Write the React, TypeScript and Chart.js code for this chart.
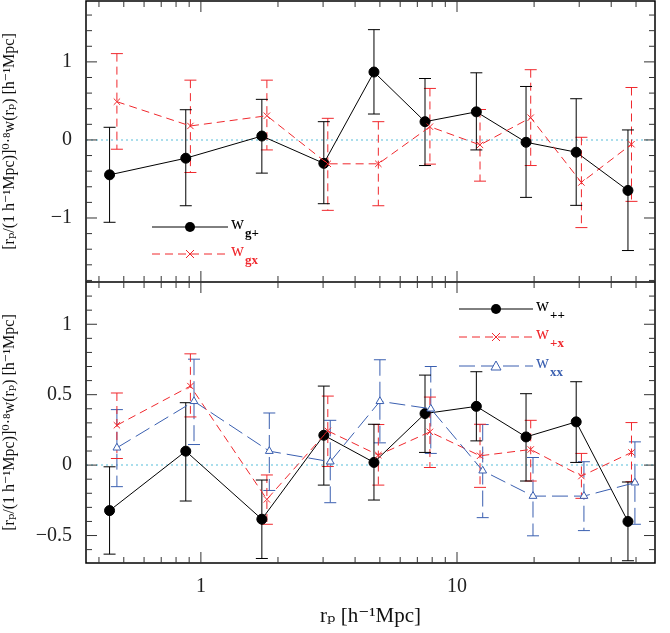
import { useEffect, useRef } from 'react';
import { Chart, registerables } from 'chart.js';

Chart.register(...registerables);

// x positions (h^-1 Mpc) of each bin, with small offsets per series
const rpBlack = [0.44, 0.873, 1.73, 3.02, 4.74, 7.5, 11.9, 18.6, 29.2, 46.5];
const rpRed = [0.47, 0.91, 1.81, 3.13, 4.93, 7.84, 12.3, 19.4, 30.6, 48.0];
const rpBlue = [0.47, 0.94, 1.85, 3.2, 5.0, 7.9, 12.6, 19.8, 31.3, 49.5];

// top panel
const wgPlus = [-0.447, -0.234, 0.05, -0.3, 0.87, 0.234, 0.36, -0.03, -0.157, -0.647];
const wgPlusHi = [0.162, 0.387, 0.52, 0.234, 1.413, 0.787, 0.86, 0.685, 0.528, 0.128];
const wgPlusLo = [-1.055, -0.843, -0.425, -0.817, 0.332, -0.328, -0.128, -0.736, -0.838, -1.417];
const wgx = [0.49, 0.179, 0.31, -0.306, -0.306, 0.17, -0.064, 0.285, -0.545, -0.055];
const wgxHi = [1.106, 0.766, 0.766, 0.277, 0.234, 0.66, 0.39, 0.9, 0.034, 0.672];
const wgxLo = [-0.119, -0.417, -0.128, -0.902, -0.843, -0.31, -0.528, -0.328, -1.123, -0.787];

// bottom panel
const wpp = [-0.323, 0.099, -0.384, 0.212, 0.019, 0.366, 0.417, 0.2, 0.307, -0.4];
const wppHi = [-0.012, 0.443, -0.106, 0.561, 0.29, 0.639, 0.663, 0.507, 0.592, -0.12];
const wppLo = [-0.632, -0.255, -0.663, -0.142, -0.248, 0.09, 0.172, -0.113, 0.019, -0.679];
const wpx = [0.283, 0.561, -0.243, 0.243, 0.071, 0.236, 0.066, 0.111, -0.078, 0.09];
const wpxHi = [0.512, 0.79, -0.07, 0.49, 0.288, 0.483, 0.29, 0.318, 0.083, 0.302];
const wpxLo = [0.047, 0.342, -0.42, -0.01, -0.142, -0.017, -0.158, -0.113, -0.236, -0.118];
const wxx = [0.123, 0.453, 0.099, 0.024, 0.453, 0.4, -0.04, -0.22, -0.22, -0.125];
const wxxHi = [0.394, 0.752, 0.37, 0.318, 0.748, 0.7, 0.288, 0.054, 0.024, 0.165];
const wxxLo = [-0.153, 0.146, -0.18, -0.267, 0.158, 0.083, -0.373, -0.502, -0.465, -0.42];

const topTicks = [-1, 0, 1];
const botTicks = [-0.5, 0, 0.5, 1];
const xTicks = [1, 10];

const SERIF = '"Liberation Serif", "DejaVu Serif", serif';
const BLACK = '#000000';
const RED = '#f0282d';
const BLUE = '#3a5fb0';
const YTITLE = '[rₚ/(1 h⁻¹Mpc)]⁰·⁸w(rₚ) [h⁻¹Mpc]';
const SHIFT = 17;

function pts(xs: number[], ys: number[]) {
  return xs.map((x, i) => ({ x, y: ys[i] }));
}

const panelPlugin = {
  id: 'panels',
  beforeDatasetsDraw(chart: any) {
    const { ctx, chartArea, scales } = chart;
    ctx.save();
    // zero lines
    ctx.strokeStyle = '#8fd3e6';
    ctx.lineWidth = 1.5;
    ctx.setLineDash([2, 3]);
    for (const id of ['yTop', 'yBot']) {
      const y = scales[id].getPixelForValue(0);
      ctx.beginPath();
      ctx.moveTo(chartArea.left, y);
      ctx.lineTo(chartArea.right, y);
      ctx.stroke();
    }
    ctx.setLineDash([]);
    // error bars
    chart.data.datasets.forEach((ds: any, i: number) => {
      const meta = chart.getDatasetMeta(i);
      const ys = scales[ds.yAxisID];
      ctx.strokeStyle = ds.borderColor;
      ctx.lineWidth = 1;
      ctx.setLineDash(ds.borderDash || []);
      meta.data.forEach((el: any, j: number) => {
        const px = el.x;
        const hi = ys.getPixelForValue(ds.errHi[j]);
        const lo = ys.getPixelForValue(ds.errLo[j]);
        ctx.beginPath();
        ctx.moveTo(px, hi);
        ctx.lineTo(px, lo);
        ctx.stroke();
        ctx.setLineDash([]);
        ctx.beginPath();
        ctx.moveTo(px - 6, hi);
        ctx.lineTo(px + 6, hi);
        ctx.moveTo(px - 6, lo);
        ctx.lineTo(px + 6, lo);
        ctx.stroke();
        ctx.setLineDash(ds.borderDash || []);
      });
    });
    ctx.restore();
  },
  afterDraw(chart: any) {
    const { ctx, chartArea, scales } = chart;
    const x = scales.x;
    const yT = scales.yTop;
    const yB = scales.yBot;
    const mid = yT.bottom;
    ctx.save();
    ctx.strokeStyle = '#000';
    ctx.lineWidth = 1.5;
    ctx.strokeRect(chartArea.left, chartArea.top, chartArea.right - chartArea.left, chartArea.bottom - chartArea.top);
    ctx.beginPath();
    ctx.moveTo(chartArea.left, mid);
    ctx.lineTo(chartArea.right, mid);
    ctx.stroke();
    ctx.lineWidth = 1;
    ctx.strokeStyle = '#333';
    // x ticks
    const xt: [number, number][] = [];
    for (let d = 0.1; d <= 100; d *= 10) {
      for (let k = 1; k <= 9; k++) {
        const v = +(k * d).toFixed(6);
        if (v >= x.min && v <= x.max) xt.push([v, k === 1 ? 11 : 6]);
      }
    }
    ctx.beginPath();
    for (const [v, len] of xt) {
      const px = x.getPixelForValue(v);
      for (const [y0, dir] of [[chartArea.top, 1], [mid, -1], [mid, 1], [chartArea.bottom, -1]] as [number, number][]) {
        ctx.moveTo(px, y0);
        ctx.lineTo(px, y0 + dir * len);
      }
    }
    // y ticks
    const yTicks = (s: any, step: number, major: number) => {
      const n0 = Math.ceil(s.min / step - 1e-6);
      const n1 = Math.floor(s.max / step + 1e-6);
      for (let n = n0; n <= n1; n++) {
        const v = n * step;
        const isMaj = Math.abs(v / major - Math.round(v / major)) < 1e-6;
        const len = isMaj ? 11 : 6;
        const py = s.getPixelForValue(v);
        ctx.moveTo(chartArea.left, py);
        ctx.lineTo(chartArea.left + len, py);
        ctx.moveTo(chartArea.right, py);
        ctx.lineTo(chartArea.right - len, py);
      }
    };
    yTicks(yT, 0.2, 1);
    yTicks(yB, 0.1, 0.5);
    ctx.stroke();

    // legends (page coordinates, shifted into canvas)
    const legend = (x0: number, x1: number, py: number, color: string, dash: number[], style: string, main: string, sub: string) => {
      const y = py + SHIFT;
      ctx.strokeStyle = color;
      ctx.fillStyle = color;
      ctx.lineWidth = 1;
      ctx.setLineDash(dash);
      ctx.beginPath();
      ctx.moveTo(x0, y);
      ctx.lineTo(x1, y);
      ctx.stroke();
      ctx.setLineDash([]);
      const mx = (x0 + x1) / 2;
      ctx.beginPath();
      if (style === 'circle') {
        ctx.arc(mx, y, 5, 0, Math.PI * 2);
        ctx.fill();
      } else if (style === 'cross') {
        ctx.moveTo(mx - 4, y - 4); ctx.lineTo(mx + 4, y + 4);
        ctx.moveTo(mx + 4, y - 4); ctx.lineTo(mx - 4, y + 4);
        ctx.stroke();
      } else {
        ctx.fillStyle = '#fff';
        ctx.moveTo(mx, y - 5); ctx.lineTo(mx + 5, y + 4); ctx.lineTo(mx - 5, y + 4); ctx.closePath();
        ctx.fill();
        ctx.stroke();
        ctx.fillStyle = color;
      }
      ctx.textBaseline = 'alphabetic';
      ctx.textAlign = 'left';
      ctx.font = `18px ${SERIF}`;
      ctx.fillText(main, x1 + 3, y + 2);
      const w = ctx.measureText(main).width;
      ctx.font = `bold 13px ${SERIF}`;
      ctx.fillText(sub, x1 + 4 + w, y + 10);
    };
    legend(152, 228, 227, BLACK, [], 'circle', 'w', 'g+');
    legend(152, 228, 254, RED, [8, 5], 'cross', 'w', 'gx');
    legend(459, 533, 309, BLACK, [], 'circle', 'w', '++');
    legend(459, 533, 337, RED, [8, 5], 'cross', 'w', '+x');
    legend(459, 533, 366, BLUE, [16, 6], 'tri', 'w', 'xx');
    ctx.restore();
  },
};

function ds(label: string, xs: number[], ys: number[], hi: number[], lo: number[], axis: string, color: string, dash: number[], style: string) {
  return {
    label,
    data: pts(xs, ys),
    errHi: hi,
    errLo: lo,
    yAxisID: axis,
    borderColor: color,
    backgroundColor: style === 'triangle' ? '#ffffff' : color,
    borderDash: dash,
    borderWidth: 1,
    pointStyle: style,
    pointRadius: style === 'circle' ? 5 : 4.5,
    pointBorderWidth: 1,
    showLine: true,
    tension: 0,
  };
}

function axisY(min: number, max: number, ticks: number[]) {
  return {
    type: 'linear',
    position: 'left',
    stack: 'panels',
    stackWeight: 1,
    min,
    max,
    grid: { display: false },
    border: { display: false },
    afterBuildTicks: (s: any) => { s.ticks = ticks.map((value) => ({ value })); },
    afterFit: (s: any) => { s.width = 86; },
    ticks: {
      color: '#222',
      font: { family: SERIF, size: 20 },
      padding: 6,
      callback: (v: any) => (v < 0 ? '−' + String(-v) : String(v)),
    },
    title: {
      display: true,
      text: YTITLE,
      color: '#111',
      font: { family: SERIF, size: 16 },
      padding: { top: 0, bottom: 0 },
    },
  };
}

export default function App() {
  const canvasRef = useRef<HTMLCanvasElement>(null);
  const chartRef = useRef<Chart | null>(null);

  useEffect(() => {
    if (!canvasRef.current) return;
    chartRef.current?.destroy();
    chartRef.current = new Chart(canvasRef.current, {
      type: 'scatter',
      data: {
        datasets: [
          ds('wgx', rpRed, wgx, wgxHi, wgxLo, 'yTop', RED, [8, 5], 'crossRot'),
          ds('wg+', rpBlack, wgPlus, wgPlusHi, wgPlusLo, 'yTop', BLACK, [], 'circle'),
          ds('wxx', rpBlue, wxx, wxxHi, wxxLo, 'yBot', BLUE, [16, 6], 'triangle'),
          ds('w+x', rpRed, wpx, wpxHi, wpxLo, 'yBot', RED, [8, 5], 'crossRot'),
          ds('w++', rpBlack, wpp, wppHi, wppLo, 'yBot', BLACK, [], 'circle'),
        ] as any,
      },
      options: {
        responsive: false,
        animation: false,
        layout: { padding: { top: 0, right: 15, left: 0, bottom: 0 } },
        plugins: { legend: { display: false }, tooltip: { enabled: false } },
        scales: {
          x: {
            type: 'logarithmic',
            min: 0.356,
            max: 59.3,
            grid: { display: false },
            border: { display: false },
            afterBuildTicks: (s: any) => { s.ticks = xTicks.map((value) => ({ value })); },
            afterFit: (s: any) => { s.height = 70; },
            ticks: { color: '#222', font: { family: SERIF, size: 20 }, padding: 4, callback: (v: any) => String(v) },
            title: { display: true, text: 'rₚ [h⁻¹Mpc]', color: '#111', font: { family: SERIF, size: 21 }, padding: { top: 4 } },
          },
          yBot: axisY(-0.695, 1.3, botTicks),
          yTop: axisY(-1.82, 1.78, topTicks),
        } as any,
      },
      plugins: [panelPlugin],
    });
    return () => { chartRef.current?.destroy(); };
  }, []);

  return (
    <div style={{ position: 'fixed', left: 0, top: 0, width: 670, height: 633, overflow: 'hidden', background: '#fff' }}>
      <canvas ref={canvasRef} width={670} height={633 + SHIFT} style={{ position: 'absolute', left: 0, top: -SHIFT, width: 670, height: 633 + SHIFT }} />
    </div>
  );
}
